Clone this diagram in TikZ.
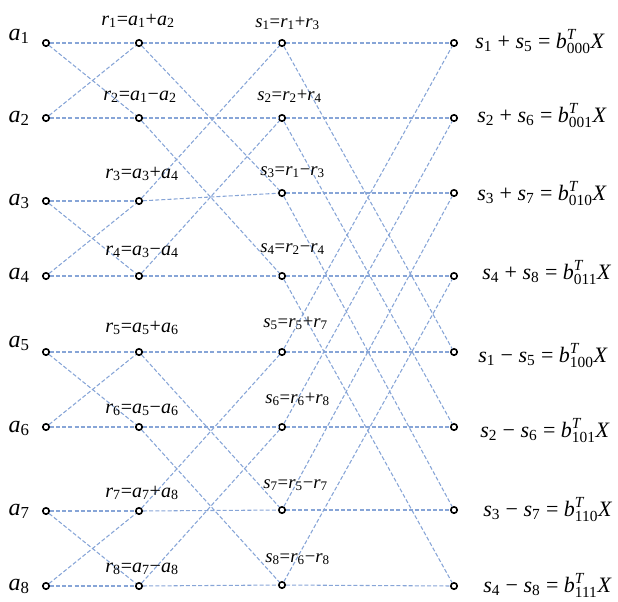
\documentclass[tikz,border=0pt]{standalone}
\usepackage{amsmath}
\usepackage{fontspec}
\setmainfont{Liberation Serif}
\newcommand{\myv}[2]{\textit{#1}$_{\text{#2}}$}
\newcommand{\myb}[1]{\textit{b}$^{\textit{T}}_{\text{#1}}$}
\definecolor{edgeblue}{RGB}{135,165,215}
\tikzset{
  pt/.style={circle,draw=black,fill=white,line width=1.2pt,inner sep=0pt,minimum size=4.8pt},
  edge/.style={draw=edgeblue,line width=0.8pt,dash pattern=on 3pt off 1.6pt},
  alab/.style={inner sep=0pt,font=\fontsize{18}{20}\selectfont},
  rlab/.style={inner sep=0pt,anchor=base west,font=\fontsize{15}{17}\selectfont},
  slab/.style={inner sep=0pt,anchor=base west,font=\fontsize{14}{16}\selectfont},
  olab/.style={inner sep=0pt,anchor=base west,font=\fontsize{16.5}{19}\selectfont}
}
\begin{document}
\begin{tikzpicture}[x=0.75pt,y=-0.75pt]
\useasboundingbox (0,0) rectangle (618,601);
% nodes
\foreach \k/\y in {1/43,2/118,3/201,4/276,5/352,6/427,7/511,8/586}{
  \node[pt] (a\k) at (46,\y) {};
  \node[pt] (r\k) at (139,\y) {};
}
\foreach \k/\y in {1/43,2/118,3/193,4/276,5/352,6/427,7/510,8/585}{
  \node[pt] (s\k) at (282,\y) {};
}
\foreach \k/\y in {1/43,2/118,3/193,4/276,5/352,6/427,7/510,8/586}{
  \node[pt] (o\k) at (454,\y) {};
}
% edges stage 1
\foreach \i/\j in {1/2,3/4,5/6,7/8}{
  \draw[edge] (a\i) -- (r\i);
  \draw[edge] (a\i) -- (r\j);
  \draw[edge] (a\j) -- (r\i);
  \draw[edge] (a\j) -- (r\j);
}
% edges stage 2
\foreach \i/\j in {1/3,2/4,5/7,6/8}{
  \draw[edge] (r\i) -- (s\i);
  \draw[edge] (r\i) -- (s\j);
  \draw[edge] (r\j) -- (s\i);
  \draw[edge] (r\j) -- (s\j);
}
% edges stage 3
\foreach \i/\j in {1/5,2/6,3/7,4/8}{
  \draw[edge] (s\i) -- (o\i);
  \draw[edge] (s\i) -- (o\j);
  \draw[edge] (s\j) -- (o\i);
  \draw[edge] (s\j) -- (o\j);
}
% input labels
\node[alab,anchor=base east] (la1) at (30,40) {\myv{a}{1}};
\node[alab,anchor=base east] (la2) at (30,122) {\myv{a}{2}};
\node[alab,anchor=base east] (la3) at (30,205) {\myv{a}{3}};
\node[alab,anchor=base east] (la4) at (30,279) {\myv{a}{4}};
\node[alab,anchor=base east] (la5) at (30,347) {\myv{a}{5}};
\node[alab,anchor=base east] (la6) at (30,432) {\myv{a}{6}};
\node[alab,anchor=base east] (la7) at (30,515) {\myv{a}{7}};
\node[alab,anchor=base east] (la8) at (30,590) {\myv{a}{8}};
% r labels
\node[rlab] (lr1) at (101,25) {\myv{r}{1}=\myv{a}{1}+\myv{a}{2}};
\node[rlab] (lr2) at (103,100) {\myv{r}{2}=\myv{a}{1}−\myv{a}{2}};
\node[rlab] (lr3) at (105,178) {\myv{r}{3}=\myv{a}{3}+\myv{a}{4}};
\node[rlab] (lr4) at (105,255) {\myv{r}{4}=\myv{a}{3}−\myv{a}{4}};
\node[rlab] (lr5) at (105,332) {\myv{r}{5}=\myv{a}{5}+\myv{a}{6}};
\node[rlab] (lr6) at (105,413) {\myv{r}{6}=\myv{a}{5}−\myv{a}{6}};
\node[rlab] (lr7) at (105,497) {\myv{r}{7}=\myv{a}{7}+\myv{a}{8}};
\node[rlab] (lr8) at (105,572) {\myv{r}{8}=\myv{a}{7}−\myv{a}{8}};
% s labels
\node[slab] (ls1) at (255,27) {\myv{s}{1}=\myv{r}{1}+\myv{r}{3}};
\node[slab] (ls2) at (257,100) {\myv{s}{2}=\myv{r}{2}+\myv{r}{4}};
\node[slab] (ls3) at (260,175) {\myv{s}{3}=\myv{r}{1}−\myv{r}{3}};
\node[slab] (ls4) at (260,252) {\myv{s}{4}=\myv{r}{2}−\myv{r}{4}};
\node[slab] (ls5) at (263,327) {\myv{s}{5}=\myv{r}{5}+\myv{r}{7}};
\node[slab] (ls6) at (265,403) {\myv{s}{6}=\myv{r}{6}+\myv{r}{8}};
\node[slab] (ls7) at (263,488) {\myv{s}{7}=\myv{r}{5}−\myv{r}{7}};
\node[slab] (ls8) at (265,562) {\myv{s}{8}=\myv{r}{6}−\myv{r}{8}};
% output labels
\node[olab] (lo1) at (475,48) {\myv{s}{1} + \myv{s}{5} = \myb{000}\textit{X}};
\node[olab] (lo2) at (477,122) {\myv{s}{2} + \myv{s}{6} = \myb{001}\textit{X}};
\node[olab] (lo3) at (477,200) {\myv{s}{3} + \myv{s}{7} = \myb{010}\textit{X}};
\node[olab] (lo4) at (482,279) {\myv{s}{4} + \myv{s}{8} = \myb{011}\textit{X}};
\node[olab] (lo5) at (478,362) {\myv{s}{1} − \myv{s}{5} = \myb{100}\textit{X}};
\node[olab] (lo6) at (480,437) {\myv{s}{2} − \myv{s}{6} = \myb{101}\textit{X}};
\node[olab] (lo7) at (483,516) {\myv{s}{3} − \myv{s}{7} = \myb{110}\textit{X}};
\node[olab] (lo8) at (483,592) {\myv{s}{4} − \myv{s}{8} = \myb{111}\textit{X}};
\end{tikzpicture}
\end{document}
